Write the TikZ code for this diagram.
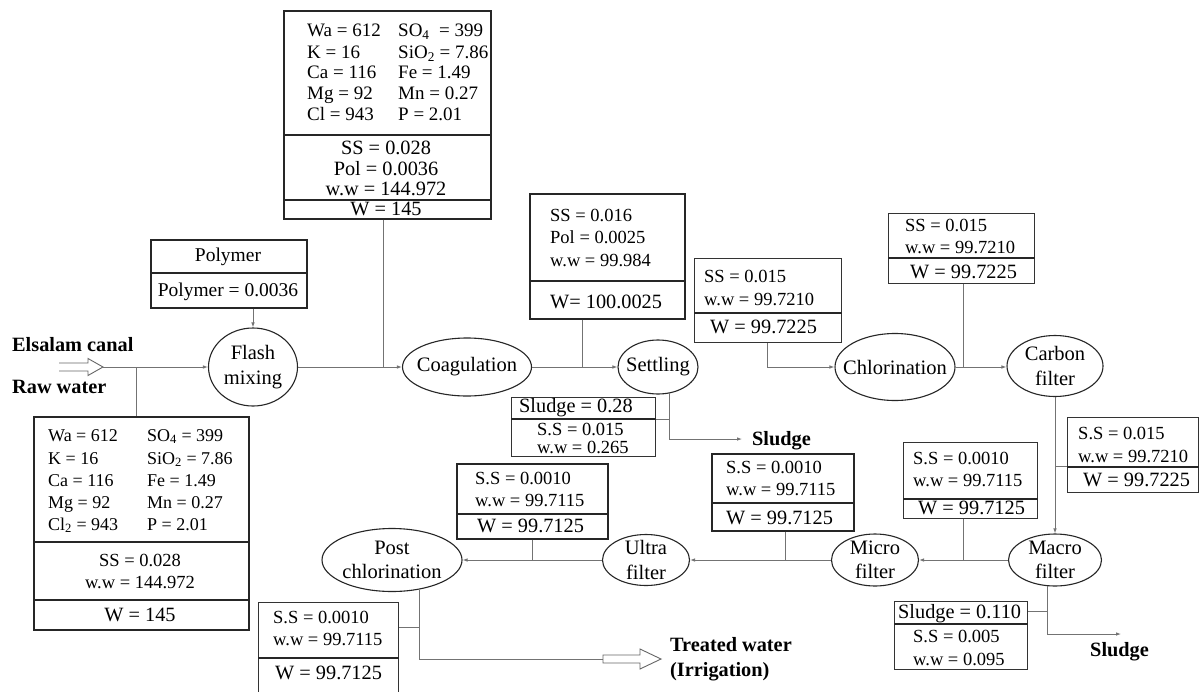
\documentclass[tikz,border=0pt]{standalone}
\usepackage{fontspec}
\setmainfont{Liberation Serif}
\usetikzlibrary{shapes.geometric,arrows.meta}
\newcounter{tn}
\newcommand\mytxt[4][]{\stepcounter{tn}\node[txt,#1] (t\arabic{tn}) at (#2,#3+6.3) {#4};}
\newcommand\mysub[1]{\textsubscript{#1}}
\tikzset{
  txt/.style={inner sep=0pt, anchor=base west, font=\fontsize{18.5}{22}\selectfont},
  ctr/.style={anchor=base},
  bigt/.style={font=\fontsize{20.3}{24}\selectfont},
  topf/.style={font=\fontsize{19}{22}\selectfont},
  llf/.style={font=\fontsize{18}{22}\selectfont},
  midf/.style={font=\fontsize{20.3}{24}\selectfont},
  polyf/.style={font=\fontsize{19.5}{24}\selectfont},
  boldt/.style={font=\bfseries\fontsize{20.3}{24}\selectfont},
  proc/.style={ellipse, draw=black!85, line width=1.1pt, inner sep=0pt},
  ptext/.style={inner sep=0pt, align=center, font=\fontsize{20.5}{24.5}\selectfont},
  thickbox/.style={draw=black!85, line width=1.6pt, inner sep=0pt, anchor=north west},
  thinbox/.style={draw=black!80, line width=1pt, inner sep=0pt, anchor=north west},
  divline/.style={draw=black!85, line width=1.1pt},
  conn/.style={draw=black!55, line width=0.9pt},
  arr/.style={conn, -{Latex[length=5pt,width=3.6pt]}},
  hollow/.style={draw=black!60, line width=0.9pt, fill=white},
}
\begin{document}
\begin{tikzpicture}[x=1pt,y=-1pt]
\useasboundingbox (0,0) rectangle (1199,691);
\fill[white] (0,0) rectangle (1199,691);

% ---------- boxes ----------
\node[thickbox, minimum width=207pt, minimum height=208pt] (topbox) at (283,10) {};
\node[thickbox, minimum width=156pt, minimum height=68pt] (polybox) at (150,239) {};
\node[thickbox, minimum width=215pt, minimum height=213pt] (llbox) at (33,416) {};
\node[thickbox, minimum width=155pt, minimum height=125pt] (setbox) at (529,193) {};
\node[thinbox, minimum width=147pt, minimum height=84pt] (chlabox) at (694,258) {};
\node[thinbox, minimum width=146pt, minimum height=70pt] (chlbbox) at (888,213) {};
\node[thinbox, minimum width=131pt, minimum height=75pt] (rbox) at (1067,417) {};
\node[thinbox, minimum width=134pt, minimum height=76pt] (mmbox) at (903,442) {};
\node[thickbox, minimum width=142pt, minimum height=77pt] (mubox) at (711,453) {};
\node[thickbox, minimum width=151pt, minimum height=75pt] (upbox) at (456,463) {};
\node[thinbox, minimum width=140pt, minimum height=95pt] (blbox) at (258,602) {};
\node[thinbox, minimum width=144pt, minimum height=59pt] (ssbox) at (511,397) {};
\node[thinbox, minimum width=133pt, minimum height=68pt] (msbox) at (894,601) {};

% dividers
\draw[divline] (topbox.west |- 0,135) -- (topbox.east |- 0,135);
\draw[divline] (topbox.west |- 0,200) -- (topbox.east |- 0,200);
\draw[divline] (polybox.west |- 0,273) -- (polybox.east |- 0,273);
\draw[divline] (llbox.west |- 0,542) -- (llbox.east |- 0,542);
\draw[divline] (llbox.west |- 0,600) -- (llbox.east |- 0,600);
\draw[divline] (setbox.west |- 0,281) -- (setbox.east |- 0,281);
\draw[divline] (chlabox.west |- 0,313) -- (chlabox.east |- 0,313);
\draw[divline] (chlbbox.west |- 0,258) -- (chlbbox.east |- 0,258);
\draw[divline] (rbox.west |- 0,467) -- (rbox.east |- 0,467);
\draw[divline] (mmbox.west |- 0,499) -- (mmbox.east |- 0,499);
\draw[divline] (mubox.west |- 0,503) -- (mubox.east |- 0,503);
\draw[divline] (upbox.west |- 0,514) -- (upbox.east |- 0,514);
\draw[divline] (blbox.west |- 0,658) -- (blbox.east |- 0,658);
\draw[divline] (ssbox.west |- 0,419) -- (ssbox.east |- 0,419);
\draw[divline] (msbox.west |- 0,624) -- (msbox.east |- 0,624);

% ---------- process ellipses ----------
\node[proc, minimum width=89pt, minimum height=78pt] (flash) at (253,367) {};
\node[proc, minimum width=129pt, minimum height=58pt] (coag) at (467,367) {};
\node[proc, minimum width=80pt, minimum height=54pt] (settle) at (658,367) {};
\node[proc, minimum width=120pt, minimum height=67pt] (chlor) at (895,367) {};
\node[proc, minimum width=96pt, minimum height=61pt] (carbon) at (1055,366) {};
\node[proc, minimum width=93pt, minimum height=52pt] (macro) at (1055,560) {};
\node[proc, minimum width=87pt, minimum height=52pt] (micro) at (875,560) {};
\node[proc, minimum width=87pt, minimum height=51pt] (ultra) at (646,560) {};
\node[proc, minimum width=140pt, minimum height=63pt] (post) at (392,560) {};

\node[ptext] (flasht) at (flash) {Flash\\mixing};
\node[ptext] (coagt) at (coag) {Coagulation};
\node[ptext] (settlet) at (settle) {Settling};
\node[ptext] (chlort) at (chlor) {Chlorination};
\node[ptext] (carbont) at (carbon) {Carbon\\filter};
\node[ptext] (macrot) at (macro) {Macro\\filter};
\node[ptext] (microt) at (micro) {Micro\\filter};
\node[ptext] (ultrat) at (ultra) {Ultra\\filter};
\node[ptext] (postt) at (post) {Post\\chlorination};

% ---------- connectors ----------
\coordinate (elstail) at (59,367);
\coordinate (elstip) at (103,367);
\draw[hollow] (elstail) ++(0,-4) -- ++(29,0) -- ++(0,-4.5) -- (elstip) -- ++(-15,8.5) -- ++(0,-4.5) -- ++(-29,0);
\draw[arr] (elstip) -- (flash.west);
\coordinate (j1) at (136,367);
\draw[conn] (j1) -- (j1 |- llbox.north);
\draw[arr] (flash.north |- polybox.south) -- (flash.north);
\draw[arr] (flash.east) -- (coag.west);
\coordinate (j2) at (383,367);
\draw[conn] (j2 |- topbox.south) -- (j2);
\draw[arr] (coag.east) -- (settle.west);
\coordinate (j3) at (582,367);
\draw[conn] (j3 |- setbox.south) -- (j3);
\coordinate (j4) at (767,367);
\draw[arr] (j4 |- chlabox.south) -- (j4) -- (chlor.west);
\draw[arr] (chlor.east) -- (carbon.west |- chlor.east);
\coordinate (j5) at (963,367);
\draw[conn] (j5 |- chlbbox.south) -- (j5);
\draw[arr] (carbon.south) -- (macro.north);
\coordinate (j6) at (1055,466);
\draw[conn] (j6) -- (j6 -| rbox.west);
\draw[arr] (macro.west) -- (micro.east);
\coordinate (j7) at (963,560);
\draw[conn] (j7 |- mmbox.south) -- (j7);
\draw[arr] (micro.west) -- (ultra.east);
\coordinate (j8) at (785,560);
\draw[conn] (j8 |- mubox.south) -- (j8);
\draw[arr] (ultra.west) -- (post.east);
\coordinate (j9) at (532,560);
\draw[conn] (j9 |- upbox.south) -- (j9);

\coordinate (trtail) at (603,659);
\coordinate (trtip) at (661,659);
\draw[conn] (post.-47) |- (trtail);
\draw[hollow] (trtail) ++(0,-4) -- ++(37,0) -- ++(0,-6) -- (trtip) -- ++(-21,10) -- ++(0,-6) -- ++(-37,0) -- cycle;
\coordinate (j11) at (419,627);
\draw[conn] (j11 -| blbox.east) -- (j11);

\coordinate (sl1tip) at (742,439);
\draw[arr] (settle.-67) |- (sl1tip);
\coordinate (j12) at (669,419);
\draw[conn] (j12 -| ssbox.east) -- (j12);

\coordinate (sl2tip) at (1121,634);
\draw[arr] (macro.-107) |- (sl2tip);
\coordinate (j13) at (1047,611);
\draw[conn] (j13 -| msbox.east) -- (j13);

% ---------- labels ----------
\mytxt[boldt]{12}{345}{Elsalam canal}
\mytxt[boldt]{12}{387}{Raw water}
\mytxt[boldt]{752}{439}{Sludge}
\mytxt[boldt]{1090}{650}{Sludge}
\mytxt[boldt]{670}{645}{Treated water}
\mytxt[boldt]{670}{670}{(Irrigation)}

% top box
\mytxt[topf]{307}{30}{Wa = 612}
\mytxt[topf]{307}{52}{K = 16}
\mytxt[topf]{307}{72}{Ca = 116}
\mytxt[topf]{307}{93}{Mg = 92}
\mytxt[topf]{307}{114}{Cl = 943}
\mytxt[topf]{398}{30}{SO\mysub{4}\ \ = 399}
\mytxt[topf]{398}{52}{SiO\mysub{2} = 7.86}
\mytxt[topf]{398}{72}{Fe = 1.49}
\mytxt[topf]{398}{93}{Mn = 0.27}
\mytxt[topf]{398}{114}{P = 2.01}
\mytxt[ctr,midf]{386}{148}{SS = 0.028}
\mytxt[ctr,midf]{386}{169}{Pol = 0.0036}
\mytxt[ctr,midf]{386}{189}{w.w = 144.972}
\mytxt[ctr,midf]{386}{209}{W = 145}

% polymer box
\mytxt[ctr,polyf]{228}{255}{Polymer}
\mytxt[ctr,polyf]{228}{290}{Polymer = 0.0036}

% lower-left box
\mytxt[llf]{48}{435}{Wa = 612}
\mytxt[llf]{48}{458}{K = 16}
\mytxt[llf]{48}{480}{Ca = 116}
\mytxt[llf]{48}{502}{Mg = 92}
\mytxt[llf]{48}{524}{Cl\mysub{2} = 943}
\mytxt[llf]{147}{435}{SO\mysub{4} = 399}
\mytxt[llf]{147}{458}{SiO\mysub{2} = 7.86}
\mytxt[llf]{147}{480}{Fe = 1.49}
\mytxt[llf]{147}{502}{Mn = 0.27}
\mytxt[llf]{147}{524}{P = 2.01}
\mytxt[ctr]{140}{560}{SS = 0.028}
\mytxt[ctr]{140}{582}{w.w = 144.972}
\mytxt[ctr,bigt]{140}{615}{W = 145}

% settling box
\mytxt{550}{215}{SS = 0.016}
\mytxt{550}{237}{Pol = 0.0025}
\mytxt{550}{260}{w.w = 99.984}
\mytxt[bigt]{550}{302}{W= 100.0025}

% chlorination boxes
\mytxt{704}{276}{SS = 0.015}
\mytxt{704}{299}{w.w = 99.7210}
\mytxt[bigt]{710}{327}{W = 99.7225}
\mytxt{905}{225}{SS = 0.015}
\mytxt{905}{247}{w.w = 99.7210}
\mytxt[bigt]{910}{272}{W = 99.7225}

% right box
\mytxt{1078}{433}{S.S = 0.015}
\mytxt{1078}{456}{w.w = 99.7210}
\mytxt[bigt]{1083}{480}{W = 99.7225}

% macro-micro box
\mytxt{913}{458}{S.S = 0.0010}
\mytxt{913}{480}{w.w = 99.7115}
\mytxt[bigt]{918}{508}{W = 99.7125}

% micro-ultra box
\mytxt{726}{467}{S.S = 0.0010}
\mytxt{726}{489}{w.w = 99.7115}
\mytxt[bigt]{726}{518}{W = 99.7125}

% ultra-post box
\mytxt{475}{478}{S.S = 0.0010}
\mytxt{475}{500}{w.w = 99.7115}
\mytxt[bigt]{477}{526}{W = 99.7125}

% bottom-left box
\mytxt{273}{617}{S.S = 0.0010}
\mytxt{273}{639}{w.w = 99.7115}
\mytxt[bigt]{275}{673}{W = 99.7125}

% settling sludge box
\mytxt[bigt]{519}{406}{Sludge = 0.28}
\mytxt{537}{429}{S.S = 0.015}
\mytxt{537}{447}{w.w = 0.265}

% macro sludge box
\mytxt[bigt]{898}{612}{Sludge = 0.110}
\mytxt{913}{636}{S.S = 0.005}
\mytxt{913}{659}{w.w = 0.095}
\end{tikzpicture}
\end{document}
